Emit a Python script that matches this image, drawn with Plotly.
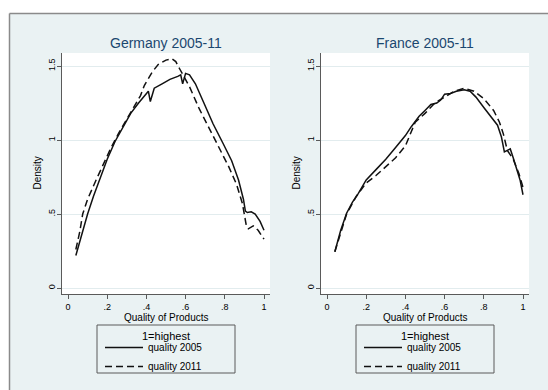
import plotly.graph_objects as go

# Kernel density of product quality, Germany and France
de_x_2005 = [0.04, 0.07, 0.10, 0.13, 0.16, 0.20, 0.24, 0.28, 0.32, 0.36, 0.40, 0.41, 0.42, 0.44,
             0.48, 0.52, 0.56, 0.575, 0.585, 0.60, 0.62, 0.65, 0.69, 0.74, 0.79, 0.835, 0.87,
             0.895, 0.905, 0.915, 0.935, 0.955, 0.98, 1.00]
de_y_2005 = [0.22, 0.36, 0.50, 0.62, 0.73, 0.87, 0.99, 1.09, 1.18, 1.25, 1.31, 1.33, 1.26, 1.35,
             1.38, 1.41, 1.43, 1.44, 1.38, 1.45, 1.44, 1.38, 1.26, 1.11, 0.98, 0.86, 0.73,
             0.60, 0.52, 0.51, 0.515, 0.50, 0.45, 0.39]

de_x_2011 = [0.04, 0.06, 0.075, 0.10, 0.14, 0.18, 0.22, 0.26, 0.30, 0.34, 0.37, 0.39, 0.41, 0.43,
             0.46, 0.50, 0.53, 0.55, 0.57, 0.59, 0.62, 0.67, 0.72, 0.77, 0.82, 0.86, 0.89,
             0.91, 0.92, 0.945, 0.97, 1.00]
de_y_2011 = [0.26, 0.38, 0.50, 0.60, 0.72, 0.84, 0.95, 1.05, 1.14, 1.23, 1.30, 1.37, 1.42, 1.46,
             1.51, 1.54, 1.55, 1.53, 1.48, 1.43, 1.36, 1.21, 1.08, 0.94, 0.82, 0.70, 0.57,
             0.42, 0.40, 0.42, 0.39, 0.33]

fr_x_2005 = [0.04, 0.07, 0.10, 0.13, 0.16, 0.20, 0.25, 0.30, 0.35, 0.40, 0.43, 0.47, 0.50, 0.53,
             0.56, 0.58, 0.60, 0.63, 0.66, 0.70, 0.73, 0.76, 0.80, 0.84, 0.87, 0.89, 0.905,
             0.92, 0.935, 0.95, 0.97, 0.985, 1.00]
fr_y_2005 = [0.245, 0.39, 0.505, 0.58, 0.64, 0.73, 0.80, 0.87, 0.95, 1.03, 1.09, 1.16, 1.20, 1.24,
             1.25, 1.27, 1.31, 1.315, 1.33, 1.34, 1.33, 1.29, 1.22, 1.15, 1.10, 1.02, 0.92,
             0.93, 0.94, 0.88, 0.80, 0.73, 0.63]

fr_x_2011 = [0.04, 0.10, 0.15, 0.20, 0.25, 0.30, 0.35, 0.40, 0.43, 0.45, 0.50, 0.55, 0.60, 0.65,
             0.70, 0.75, 0.80, 0.85, 0.88, 0.90, 0.92, 0.95, 0.98, 1.00]
fr_y_2011 = [0.245, 0.50, 0.62, 0.71, 0.76, 0.82, 0.88, 0.96, 1.06, 1.12, 1.18, 1.25, 1.29, 1.33,
             1.35, 1.33, 1.28, 1.20, 1.12, 1.04, 0.93, 0.87, 0.77, 0.68]

panel_titles = ["Germany 2005-11", "France 2005-11"]
series_names = ["quality 2005", "quality 2011"]
x_tickvals = [0, 0.2, 0.4, 0.6, 0.8, 1]
x_ticktext = ["0", ".2", ".4", ".6", ".8", "1"]
y_tickvals = [0, 0.5, 1, 1.5]
y_ticktext = ["0", ".5", "1", "1.5"]

W, H = 548, 390
BG = "#EAF2F3"
INK = "#111111"
AXIS = "#5a5a5a"
TITLE = "#1A476F"
FONT = "Liberation Sans, Arial, sans-serif"


def fx(p):
    return p / W


def fy(p):
    return 1 - p / H


panels = [
    dict(left=62, right=270, xa="x", ya="y", leg="legend",
         data=[(de_x_2005, de_y_2005), (de_x_2011, de_y_2011)]),
    dict(left=321, right=529, xa="x2", ya="y2", leg="legend2",
         data=[(fr_x_2005, fr_y_2005), (fr_x_2011, fr_y_2011)]),
]
plot_top, plot_bottom = 53, 294

fig = go.Figure()
dashes = ["solid", "7px,4px"]
for p in panels:
    for (xs, ys), name, dash in zip(p["data"], series_names, dashes):
        fig.add_trace(go.Scatter(
            x=xs, y=ys, mode="lines", name=name,
            line=dict(color=INK, width=1.5, dash=dash),
            xaxis=p["xa"], yaxis=p["ya"], legend=p["leg"], showlegend=True,
        ))

axis_common = dict(showline=True, linecolor=AXIS, linewidth=1, ticks="outside",
                   ticklen=4, tickcolor=AXIS, zeroline=False,
                   tickfont=dict(size=9, color="#000000", family=FONT))
layout = dict(
    width=W, height=H, margin=dict(l=0, r=0, t=0, b=0),
    paper_bgcolor=BG, plot_bgcolor="white",
    font=dict(family=FONT, color="#000000"),
)
shapes = [
    # white strips outside the graph region, then its frame
    dict(type="rect", xref="paper", yref="paper", x0=-0.01, x1=1.01, y0=fy(13.5), y1=1.01,
         line=dict(width=0), fillcolor="white", layer="below"),
    dict(type="rect", xref="paper", yref="paper", x0=-0.01, x1=fx(9.5), y0=-0.01, y1=1.01,
         line=dict(width=0), fillcolor="white", layer="below"),
    dict(type="line", xref="paper", yref="paper", x0=fx(9.5), x1=1.01, y0=fy(13.5), y1=fy(13.5),
         line=dict(color="#8a8a8a", width=1.5), layer="below"),
    dict(type="line", xref="paper", yref="paper", x0=fx(9.5), x1=fx(9.5), y0=-0.01, y1=fy(13.5),
         line=dict(color="#8a8a8a", width=1.5), layer="below"),
]
annotations = []


def label(text, x, y, size, color="#000000", angle=0):
    return dict(text=text, x=fx(x), y=fy(y), xref="paper", yref="paper",
                xanchor="center", yanchor="middle", showarrow=False, textangle=angle,
                font=dict(size=size, color=color, family=FONT))


for i, p in enumerate(panels):
    sfx = "" if i == 0 else "2"
    layout["xaxis" + sfx] = dict(
        axis_common, domain=[fx(p["left"]), fx(p["right"])],
        range=[-0.0306, 1.0306], tickvals=x_tickvals, ticktext=x_ticktext,
        showgrid=False, anchor="y" + sfx,
    )
    layout["yaxis" + sfx] = dict(
        axis_common, domain=[fy(plot_bottom), fy(plot_top)],
        range=[-0.0405, 1.588], tickvals=y_tickvals, ticktext=y_ticktext,
        tickangle=-90, showgrid=True, gridcolor="#E2ECEE", gridwidth=1,
        anchor="x" + sfx, ticklabelstandoff=-2,
    )
    cx = (p["left"] + p["right"]) / 2
    annotations += [
        label(panel_titles[i], cx, 43, 14, TITLE),
        label("Quality of Products", cx, 317, 10),
        label("Density", p["left"] - 25, (plot_top + plot_bottom) / 2, 10, angle=-90),
        label("1=highest", cx, 336, 11),
    ]
    # legend box
    shapes.append(dict(type="rect", xref="paper", yref="paper",
                       x0=fx(cx - 69), x1=fx(cx + 69), y0=fy(373), y1=fy(325),
                       line=dict(color=AXIS, width=1), fillcolor="rgba(0,0,0,0)"))
    layout[p["leg"]] = dict(
        x=fx(cx - 66), y=fy(333), xanchor="left", yanchor="top",
        bgcolor="rgba(0,0,0,0)", borderwidth=0, itemwidth=38,
        font=dict(size=10, color="#000000", family=FONT), tracegroupgap=0,
    )

layout["shapes"] = shapes
layout["annotations"] = annotations
fig.update_layout(**layout)
fig.write_html("out.html")
